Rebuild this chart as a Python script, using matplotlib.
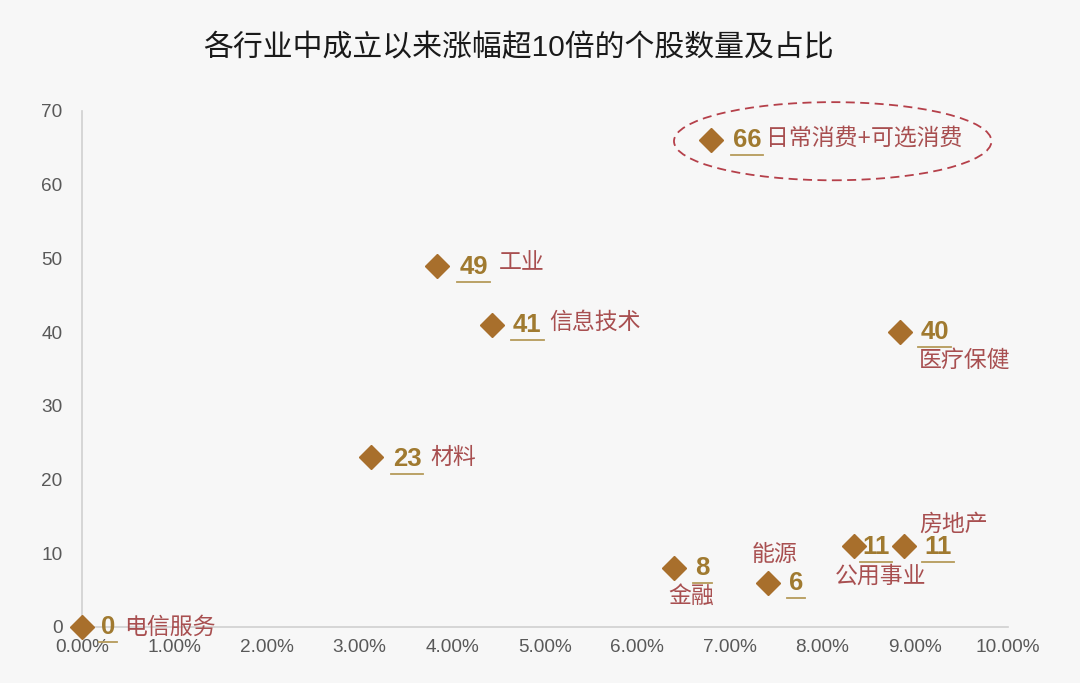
import matplotlib
matplotlib.use("Agg")
import matplotlib.pyplot as plt
from matplotlib.patches import Ellipse
from matplotlib.lines import Line2D
from matplotlib.ticker import FuncFormatter

plt.rcParams['font.family'] = ['Liberation Sans', 'Noto Sans CJK SC', 'DejaVu Sans']

# ---- data ----
industries = ['电信服务', '材料', '工业', '信息技术', '日常消费+可选消费',
              '医疗保健', '金融', '能源', '公用事业', '房地产']
share_pct = [0.00, 3.12, 3.84, 4.43, 6.79, 8.84, 6.40, 7.41, 8.34, 8.88]
counts = [0, 23, 49, 41, 66, 40, 8, 6, 11, 11]
x_ticks = [0, 1, 2, 3, 4, 5, 6, 7, 8, 9, 10]
y_ticks = [0, 10, 20, 30, 40, 50, 60, 70]
title = '各行业中成立以来涨幅超10倍的个股数量及占比'

# ---- label layout (pixel offsets: number (dx,dy,ha), category (dx,dy,ha)) ----
layout = {
    '电信服务': ((19, 0, 'left'), (42, 0, 'left')),
    '材料': ((22, -2, 'left'), (60, 0, 'left')),
    '工业': ((22, -1, 'left'), (61, 3, 'left')),
    '信息技术': ((21, 0, 'left'), (57, 2, 'left')),
    '日常消费+可选消费': ((22, 0, 'left'), (55, 2, 'left')),
    '医疗保健': ((20, 0, 'left'), (19, -28, 'left')),
    '金融': ((28, 0, 'center'), (17, -28, 'center')),
    '能源': ((28, 0, 'center'), (7, 28, 'center')),
    '公用事业': ((22, -1, 'center'), (27, -30, 'center')),
    '房地产': ((34, -1, 'center'), (50, 22, 'center')),
}

BG = '#f7f7f7'
MARK = '#a86f2c'
NUM = '#a07a30'
CAT = '#a84f50'
TICK = '#595959'

fig = plt.figure(figsize=(10.8, 6.83), dpi=100, facecolor=BG)
ax = fig.add_axes([0.076, 0.082, 0.857, 0.7555])
ax.set_facecolor(BG)

ax.plot(share_pct, counts, linestyle='none', marker='D', markersize=12,
        color=MARK, clip_on=False, zorder=3)

ax.set_xlim(0, 10)
ax.set_ylim(0, 70)
ax.set_xticks(x_ticks)
ax.set_yticks(y_ticks)
ax.xaxis.set_major_formatter(FuncFormatter(lambda v, p: f'{v:.2f}%'))
ax.tick_params(axis='both', length=0, labelsize=13.7, colors=TICK)
ax.tick_params(axis='x', pad=9)
ax.tick_params(axis='y', pad=14)
for s in ['top', 'right']:
    ax.spines[s].set_visible(False)
for s in ['left', 'bottom']:
    ax.spines[s].set_color('#d0d0d0')
    ax.spines[s].set_linewidth(1.2)

fig.text(0.48, 0.93, title, ha='center', va='center', fontsize=21.5, color='#1a1a1a')

num_texts = []
for name, x, y in zip(industries, share_pct, counts):
    (ndx, ndy, nha), (cdx, cdy, cha) = layout[name]
    t = ax.annotate(str(y), (x, y), xytext=(ndx * 0.72, ndy * 0.72), textcoords='offset points',
                    ha=nha, va='center', fontsize=18.5, fontweight='bold', color=NUM,
                    annotation_clip=False, zorder=4)
    num_texts.append(t)
    ax.annotate(name, (x, y), xytext=(cdx * 0.72, cdy * 0.72), textcoords='offset points',
                ha=cha, va='center', fontsize=16.5, color=CAT,
                annotation_clip=False, zorder=4)

# ellipse around consumer
ell = Ellipse((8.11, 65.9), 3.43, 10.6, fill=False, edgecolor='#b5404a',
              linestyle=(0, (5, 3)), linewidth=1.3, clip_on=False)
ax.add_patch(ell)

# underlines for numbers
fig.canvas.draw()
r = fig.canvas.get_renderer()
W, H = fig.bbox.width, fig.bbox.height
for t in num_texts:
    bb = t.get_window_extent(r)
    y0 = bb.y0 - 3
    fig.add_artist(Line2D([(bb.x0 - 2) / W, (bb.x1 + 2) / W], [y0 / H, y0 / H],
                          transform=fig.transFigure, color='#b59a5a', linewidth=1.3))

fig.savefig('out.png', dpi=100, facecolor=BG)
